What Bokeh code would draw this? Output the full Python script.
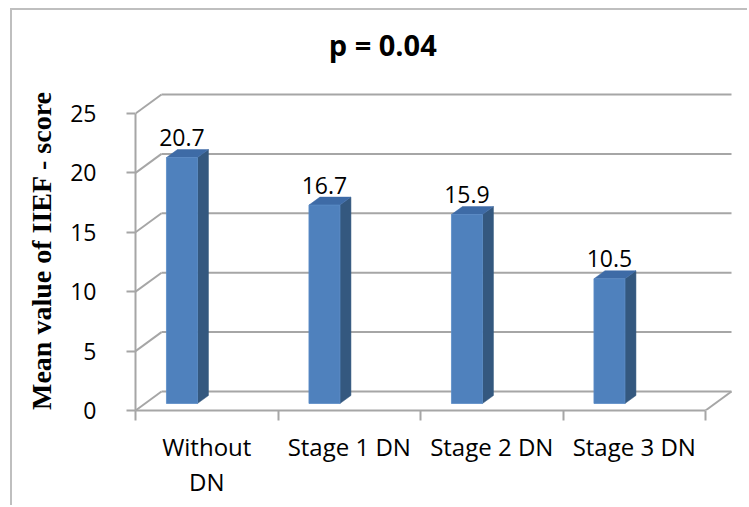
from bokeh.plotting import figure
from bokeh.models import ColumnDataSource, Range1d, FixedTicker, LinearAxis
from bokeh.core.properties import value
from bokeh.embed import file_html
from bokeh.resources import INLINE

# ---- data ---------------------------------------------------------------
categories = ["Without DN", "Stage 1 DN", "Stage 2 DN", "Stage 3 DN"]
tick_text = ["Without\nDN", "Stage 1 DN", "Stage 2 DN", "Stage 3 DN"]
means = [20.7, 16.7, 15.9, 10.5]
y_ticks = [0, 5, 10, 15, 20, 25]
title_text = "p = 0.04"
y_title = "Mean value of IIEF - score"

# ---- pseudo-3D geometry (data units) -----------------------------------
PX_X = 142.5          # pixels per category
PX_Y = 11.88          # pixels per score unit
FRAME_W, FRAME_H = 600, 320
WALL_DX, WALL_DY = 26 / PX_X, 19 / PX_Y     # back wall depth
BAR_DX, BAR_DY = 11 / PX_X, 8 / PX_Y        # bar depth
BAR_OFF = 0.326                              # bar centre inside its category
BAR_W = 31 / PX_X
BAR_BASE = 7 / PX_Y
LABEL_GAP = 12 / PX_Y
TITLE_PAD = "\u00a0" * 14                    # pulls the title left of centre

FRONT, TOP, SIDE = "#4F81BD", "#3E6BA6", "#34587F"
GRID = "#A6A6A6"
SANS = "Open Sans"

p = figure(width=737, height=497, output_backend="svg", toolbar_location=None,
           x_range=Range1d(0, FRAME_W / PX_X), y_range=Range1d(0, FRAME_H / PX_Y),
           min_border_left=123, min_border_right=14,
           min_border_top=80, min_border_bottom=97)
p.outline_line_color = None
p.xgrid.visible = False
p.ygrid.visible = False
p.background_fill_color = "white"
p.border_fill_color = "white"
# thin grey frame around the chart area
p.styles = {"border-top": "2px solid #BFBFBF", "border-left": "2px solid #BFBFBF",
            "margin-left": "10px", "margin-top": "8px"}

# chart title, carried by a bare axis above the plot
title_axis = LinearAxis(ticker=FixedTicker(ticks=[], minor_ticks=[]),
                        axis_line_color=None,
                        major_tick_in=0, major_tick_out=0,
                        minor_tick_in=0, minor_tick_out=0,
                        major_label_standoff=0,
                        axis_label=title_text + TITLE_PAD,
                        axis_label_standoff=27,
                        axis_label_text_font=SANS,
                        axis_label_text_font_size="29px",
                        axis_label_text_font_style="bold",
                        axis_label_text_color="black")
p.add_layout(title_axis, "above")

# ---- walls and floor -----------------------------------------------------
n = len(categories)
wall = ColumnDataSource(dict(
    x0=[WALL_DX] * len(y_ticks), x1=[n + WALL_DX] * len(y_ticks),
    y=[t + WALL_DY for t in y_ticks]))
p.segment(x0="x0", y0="y", x1="x1", y1="y", source=wall,
          line_color=GRID, line_width=2)
diag = ColumnDataSource(dict(
    x0=[0] * len(y_ticks), y0=y_ticks,
    x1=[WALL_DX] * len(y_ticks), y1=[t + WALL_DY for t in y_ticks]))
p.segment(x0="x0", y0="y0", x1="x1", y1="y1", source=diag,
          line_color=GRID, line_width=2)
# right edge of the floor
p.segment(x0=[n], y0=[0], x1=[n + WALL_DX], y1=[WALL_DY],
          line_color=GRID, line_width=2)

# ---- bars ----------------------------------------------------------------
xl = [i + BAR_OFF - BAR_W / 2 for i in range(n)]
xr = [x + BAR_W for x in xl]
tops = [BAR_BASE + m for m in means]
bars = ColumnDataSource(dict(
    left=xl, right=xr, bottom=[BAR_BASE] * n, top=tops,
    xc=[i + BAR_OFF for i in range(n)],
    ly=[t + BAR_DY + LABEL_GAP for t in tops],
    label=[f"{m:.1f}" for m in means],
    top_xs=[[a, b, b + BAR_DX, a + BAR_DX] for a, b in zip(xl, xr)],
    top_ys=[[t, t, t + BAR_DY, t + BAR_DY] for t in tops],
    side_xs=[[b, b + BAR_DX, b + BAR_DX, b] for b in xr],
    side_ys=[[BAR_BASE, BAR_BASE + BAR_DY, t + BAR_DY, t] for t in tops],
))
p.patches(xs="side_xs", ys="side_ys", source=bars, fill_color=SIDE,
          line_color=SIDE, line_width=0.5)
p.patches(xs="top_xs", ys="top_ys", source=bars, fill_color=TOP,
          line_color=TOP, line_width=0.5)
p.quad(left="left", right="right", bottom="bottom", top="top", source=bars,
       fill_color=FRONT, line_color="#5B8CC6", line_width=0.8)
p.text(x="xc", y="ly", text="label", source=bars, text_align="center",
       text_baseline="alphabetic", text_font=value(SANS),
       text_font_size="23px", text_color="black")

# ---- axes ----------------------------------------------------------------
ya = p.left[0]
ya.ticker = FixedTicker(ticks=y_ticks, minor_ticks=[])
ya.bounds = (0, y_ticks[-1])
ya.axis_line_color = GRID
ya.axis_line_width = 2
ya.major_tick_line_color = GRID
ya.major_tick_line_width = 2
ya.major_tick_in = 0
ya.major_tick_out = 9
ya.minor_tick_out = 0
ya.minor_tick_in = 0
ya.major_label_standoff = 30
ya.major_label_text_font = SANS
ya.major_label_text_font_size = "23px"
ya.major_label_text_color = "black"
ya.axis_label = y_title
ya.axis_label_text_font = "Liberation Serif"
ya.axis_label_text_font_style = "bold"
ya.axis_label_text_font_size = "28px"
ya.axis_label_text_color = "black"
ya.axis_label_standoff = 10

xa = p.below[0]
centers = [i + 0.5 for i in range(n)]
xa.ticker = FixedTicker(ticks=centers, minor_ticks=list(range(n + 1)))
xa.major_label_overrides = {c: t for c, t in zip(centers, tick_text)}
xa.bounds = (0, n)
xa.axis_line_color = GRID
xa.axis_line_width = 2
xa.major_tick_out = 0
xa.major_tick_in = 0
xa.minor_tick_line_color = GRID
xa.minor_tick_line_width = 2
xa.minor_tick_in = 0
xa.minor_tick_out = 10
xa.major_label_standoff = 9
xa.major_label_text_font = SANS
xa.major_label_text_font_size = "24px"
xa.major_label_text_line_height = 1.07
xa.major_label_text_color = "black"

open("out.html", "w").write(file_html(p, INLINE))
